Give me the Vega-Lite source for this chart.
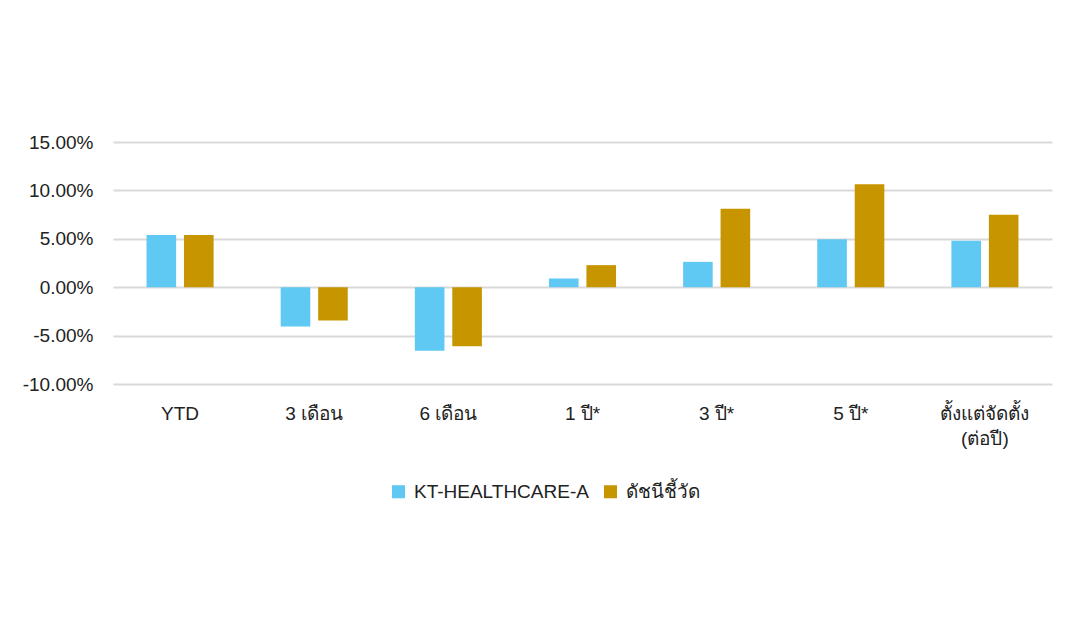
{
  "$schema": "https://vega.github.io/schema/vega-lite/v6.json",
  "width": 939,
  "height": 242,
  "padding": {"left": 22, "top": 133, "right": 28, "bottom": 120},
  "background": "#ffffff",
  "data": {
    "values": [
      {"period": "YTD", "series": "KT-HEALTHCARE-A", "ret": 0.054},
      {"period": "YTD", "series": "ดัชนีชี้วัด", "ret": 0.054},
      {"period": "3 เดือน", "series": "KT-HEALTHCARE-A", "ret": -0.0406},
      {"period": "3 เดือน", "series": "ดัชนีชี้วัด", "ret": -0.0344},
      {"period": "6 เดือน", "series": "KT-HEALTHCARE-A", "ret": -0.0657},
      {"period": "6 เดือน", "series": "ดัชนีชี้วัด", "ret": -0.0609},
      {"period": "1 ปี*", "series": "KT-HEALTHCARE-A", "ret": 0.009},
      {"period": "1 ปี*", "series": "ดัชนีชี้วัด", "ret": 0.0228},
      {"period": "3 ปี*", "series": "KT-HEALTHCARE-A", "ret": 0.0262},
      {"period": "3 ปี*", "series": "ดัชนีชี้วัด", "ret": 0.081},
      {"period": "5 ปี*", "series": "KT-HEALTHCARE-A", "ret": 0.0496},
      {"period": "5 ปี*", "series": "ดัชนีชี้วัด", "ret": 0.1064},
      {"period": "ตั้งแต่จัดตั้ง (ต่อปี)", "series": "KT-HEALTHCARE-A", "ret": 0.0479},
      {"period": "ตั้งแต่จัดตั้ง (ต่อปี)", "series": "ดัชนีชี้วัด", "ret": 0.0748}
    ]
  },
  "mark": {"type": "bar"},
  "encoding": {
    "x": {
      "field": "period",
      "type": "nominal",
      "sort": null,
      "scale": {"paddingInner": 0.5, "paddingOuter": 0.25},
      "axis": {
        "title": null,
        "orient": "bottom",
        "labelAngle": 0,
        "domain": false,
        "ticks": false,
        "labelPadding": 20,
        "labelFontSize": 19,
        "labelColor": "#222222",
        "labelFont": "Liberation Sans",
        "labelLineHeight": 25,
        "labelExpr": "datum.value == 'ตั้งแต่จัดตั้ง (ต่อปี)' ? ['ตั้งแต่จัดตั้ง', '(ต่อปี)'] : datum.label"
      }
    },
    "xOffset": {
      "field": "series",
      "type": "nominal",
      "sort": null,
      "scale": {"paddingInner": 0.21, "paddingOuter": 0}
    },
    "y": {
      "field": "ret",
      "type": "quantitative",
      "scale": {"domain": [-0.1, 0.15], "nice": false, "zero": false},
      "axis": {
        "title": null,
        "values": [-0.1, -0.05, 0, 0.05, 0.1, 0.15],
        "labelExpr": "replace(format(datum.value, '.2%'), '−', '-')",
        "domain": false,
        "ticks": false,
        "labelPadding": 20,
        "labelFontSize": 19,
        "labelColor": "#222222",
        "labelFont": "Liberation Sans",
        "grid": true,
        "gridColor": "#d9d9d9",
        "gridWidth": 2
      }
    },
    "color": {
      "field": "series",
      "type": "nominal",
      "sort": null,
      "scale": {"domain": ["KT-HEALTHCARE-A", "ดัชนีชี้วัด"], "range": ["#5fc9f3", "#c69500"]},
      "legend": {
        "title": null,
        "orient": "none",
        "legendX": 276,
        "legendY": 340,
        "direction": "horizontal",
        "symbolType": "square",
        "symbolSize": 170,
        "symbolStrokeWidth": 0,
        "labelFontSize": 19,
        "labelFont": "Liberation Sans",
        "labelColor": "#222222",
        "labelLimit": 0,
        "labelOffset": 6,
        "columnPadding": 12
      }
    }
  },
  "config": {
    "view": {"stroke": null}
  }
}
